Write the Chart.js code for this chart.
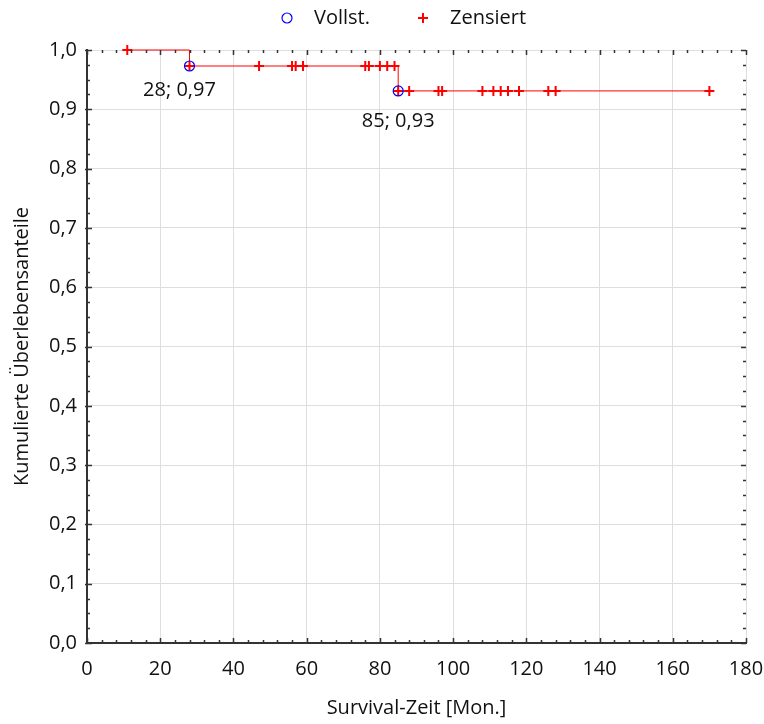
<!DOCTYPE html>
<html>
<head>
<meta charset="utf-8">
<script src="https://cdn.jsdelivr.net/npm/chart.js@4.4.1/dist/chart.umd.min.js"></script>
<style>
  body { margin: 0; background: #fff; }
  canvas { display: block; }
</style>
</head>
<body>
<canvas id="km-chart" width="764" height="724"></canvas>
<script>
// Kaplan-Meier curve
const curveTimes = [11, 28, 85, 170];
const curveSurvival = [1, 0.973, 0.931, 0.931];

// complete (event) observations
const eventTimes = [28, 85];
const eventSurvival = [0.973, 0.931];

// censored observations
const censoredTimes = [11, 28, 47, 56, 57, 59, 76, 77, 80, 82, 84,
  85, 88, 96, 97, 108, 111, 113, 115, 118, 126, 128, 170];
const censoredSurvival = [1, 0.973, 0.973, 0.973, 0.973, 0.973, 0.973, 0.973, 0.973, 0.973, 0.973,
  0.931, 0.931, 0.931, 0.931, 0.931, 0.931, 0.931, 0.931, 0.931, 0.931, 0.931, 0.931];

const xTicks = [0, 20, 40, 60, 80, 100, 120, 140, 160, 180];
const yTicks = [0, 0.1, 0.2, 0.3, 0.4, 0.5, 0.6, 0.7, 0.8, 0.9, 1.0];

const FONT = 'Open Sans';
const fmt = (v, d) => v.toFixed(d).replace('.', ',');

const toPoints = (xs, ys) => xs.map((x, i) => ({ x, y: ys[i] }));

// ticks pointing into the plot on all four sides
const frameTicks = {
  id: 'frameTicks',
  afterDatasetsDraw(chart) {
    const { ctx, chartArea: { left, right, top, bottom }, scales: { x, y } } = chart;
    ctx.save();
    ctx.strokeStyle = '#333';
    ctx.lineWidth = 1.5;
    ctx.beginPath();
    for (let i = 0; i <= 45; i++) {
      const px = Math.round(x.getPixelForValue(i * 4)) + 0.5;
      const len = i % 5 === 0 ? 5 : 3;
      ctx.moveTo(px, bottom);
      ctx.lineTo(px, bottom - len);
      ctx.moveTo(px, top);
      ctx.lineTo(px, top + len);
    }
    for (let i = 0; i <= 40; i++) {
      const py = Math.round(y.getPixelForValue(i * 0.025)) + 0.5;
      const major = i % 4 === 0;
      const len = major ? 5 : 3;
      ctx.moveTo(left - (major ? 2 : 0), py);
      ctx.lineTo(left + len, py);
      ctx.moveTo(right, py);
      ctx.lineTo(right - len, py);
    }
    ctx.stroke();
    ctx.restore();
  },
};

// "time; survival" labels under the event points
const eventLabels = {
  id: 'eventLabels',
  afterDatasetsDraw(chart, args, options) {
    const { ctx, scales: { x, y } } = chart;
    ctx.save();
    ctx.fillStyle = '#111';
    ctx.font = `20px "${FONT}"`;
    ctx.textAlign = 'center';
    ctx.textBaseline = 'middle';
    eventTimes.forEach((t, i) => {
      const off = options.offsets[i];
      const px = x.getPixelForValue(t) + off[0];
      const py = y.getPixelForValue(eventSurvival[i]) + off[1];
      ctx.fillText(`${t}; ${fmt(eventSurvival[i], 2)}`, px, py);
    });
    ctx.restore();
  },
};

// legend drawn above the plot
const topLegend = {
  id: 'topLegend',
  afterDraw(chart, args, options) {
    const { ctx } = chart;
    ctx.save();
    ctx.font = `20px "${FONT}"`;
    ctx.textBaseline = 'middle';
    ctx.textAlign = 'left';
    options.items.forEach((item) => {
      const ds = chart.data.datasets[item.dataset];
      ctx.strokeStyle = ds.pointBorderColor;
      ctx.lineWidth = ds.pointBorderWidth;
      ctx.beginPath();
      if (ds.pointStyle === 'circle') {
        ctx.arc(item.x, options.y, item.radius, 0, Math.PI * 2);
      } else {
        ctx.moveTo(item.x - item.radius, options.y);
        ctx.lineTo(item.x + item.radius, options.y);
        ctx.moveTo(item.x, options.y - item.radius);
        ctx.lineTo(item.x, options.y + item.radius);
      }
      ctx.stroke();
      ctx.fillStyle = '#111';
      ctx.fillText(ds.label, item.x + 27, options.y);
    });
    ctx.restore();
  },
};

const chart = new Chart(document.getElementById('km-chart'), {
  type: 'scatter',
  data: {
    datasets: [
      {
        label: 'Vollst.',
        data: toPoints(eventTimes, eventSurvival),
        pointStyle: 'circle',
        pointRadius: 5,
        pointBorderWidth: 1.2,
        pointBorderColor: '#0000ff',
        pointBackgroundColor: 'rgba(0,0,0,0)',
        clip: 6,
      },
      {
        label: 'Zensiert',
        data: toPoints(censoredTimes, censoredSurvival),
        pointStyle: 'cross',
        pointRadius: 5,
        pointBorderWidth: 2,
        pointBorderColor: '#ff0000',
        clip: 6,
      },
      {
        label: 'curve',
        data: toPoints(curveTimes, curveSurvival),
        showLine: true,
        stepped: true,
        borderColor: '#ff0000',
        borderWidth: 1,
        pointRadius: 0,
        clip: 4,
      },
    ],
  },
  options: {
    responsive: false,
    animation: false,
    layout: {
      padding: {
        top: 50, right: 18, left: 0, bottom: 0,
      },
    },
    plugins: {
      legend: { display: false },
      tooltip: { enabled: false },
      eventLabels: {
        offsets: [[-10, 24], [0, 30]],
      },
      topLegend: {
        y: 18,
        items: [
          { dataset: 0, x: 287, radius: 5 },
          { dataset: 1, x: 423, radius: 5 },
        ],
      },
    },
    scales: {
      x: {
        type: 'linear',
        min: xTicks[0],
        max: xTicks[xTicks.length - 1],
        afterBuildTicks(scale) {
          scale.ticks = xTicks.map((v) => ({ value: v }));
        },
        afterFit(scale) {
          scale.height = 81;
          scale.paddingLeft = 0;
          scale.paddingRight = 0;
        },
        grid: {
          color: '#dedede',
          lineWidth: 1,
          drawTicks: false,
        },
        border: { color: '#333', width: 2 },
        ticks: {
          color: '#111',
          padding: 14,
          maxRotation: 0,
          font: { family: FONT, size: 20 },
        },
        title: {
          display: true,
          text: 'Survival-Zeit [Mon.]',
          color: '#111',
          padding: { top: 0, bottom: 4 },
          font: { family: FONT, size: 20 },
        },
      },
      y: {
        type: 'linear',
        min: yTicks[0],
        max: yTicks[yTicks.length - 1],
        afterBuildTicks(scale) {
          scale.ticks = yTicks.map((v) => ({ value: v }));
        },
        afterFit(scale) {
          scale.width = 87;
          scale.paddingTop = 0;
          scale.paddingBottom = 0;
        },
        grid: {
          color: '#dedede',
          lineWidth: 1,
          drawTicks: false,
        },
        border: { color: '#333', width: 2 },
        ticks: {
          color: '#111',
          padding: 10,
          font: { family: FONT, size: 20 },
          callback: (v) => fmt(v, 1),
        },
        title: {
          display: true,
          text: 'Kumulierte Überlebensanteile',
          color: '#111',
          padding: { top: 10, bottom: 0 },
          font: { family: FONT, size: 20 },
        },
      },
    },
  },
  plugins: [frameTicks, eventLabels, topLegend],
});
</script>
</body>
</html>
